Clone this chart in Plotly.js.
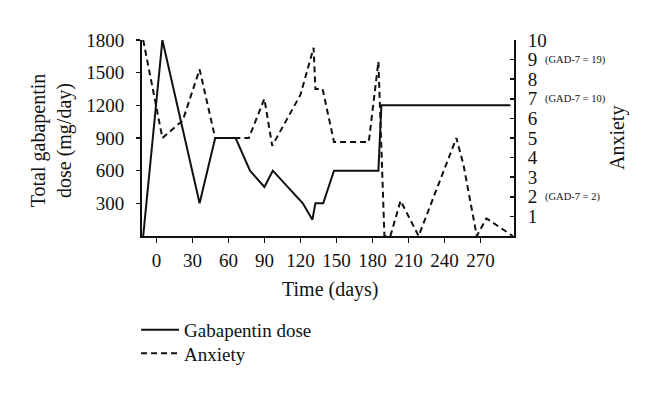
<!DOCTYPE html>
<html>
<head>
<meta charset="utf-8">
<script src="https://cdn.plot.ly/plotly-3.0.1.min.js"></script>
<style>html,body{margin:0;padding:0;background:#fff;}#chart{width:660px;height:396px;}</style>
</head>
<body>
<div id="chart"></div>
<script>
// Gabapentin dose (mg/day) by day
const doseDays = [-11, 5, 36, 49, 66, 78, 90, 97, 122, 130, 132.5, 139, 148, 185, 187.5, 295];
const doseValues = [0, 1800, 300, 900, 900, 600, 450, 600, 300, 150, 300, 300, 600, 600, 1200, 1200];

// Anxiety score by day
const anxDays = [-11, 5, 22, 36, 49, 77, 90, 96.5, 120, 131, 132.5, 138.5, 148, 177, 185, 190, 195, 203.5, 218.5, 250, 256, 267, 275, 297];
const anxValues = [10, 5, 5.9, 8.5, 5, 5, 7, 4.6, 7.2, 9.6, 7.5, 7.5, 4.8, 4.8, 8.9, 0, 0, 1.8, 0, 5, 3.6, 0, 0.9, 0];

const xTicks = [0, 30, 60, 90, 120, 150, 180, 210, 240, 270];
const doseTicks = [300, 600, 900, 1200, 1500, 1800];
const anxTicks = [1, 2, 3, 4, 5, 6, 7, 8, 9, 10];
const gadLabels = ["(GAD-7 = 19)", "(GAD-7 = 10)", "(GAD-7 = 2)"];
const gadLevels = [9, 7, 2];

const FONT = '"Liberation Serif", "Times New Roman", serif';

const traces = [
  {x: doseDays, y: doseValues, name: 'Gabapentin dose', type: 'scatter', mode: 'lines',
   line: {color: '#111', width: 2}, yaxis: 'y', legend: 'legend'},
  {x: anxDays, y: anxValues, name: 'Anxiety', type: 'scatter', mode: 'lines',
   line: {color: '#111', width: 2, dash: '6px,4px'}, yaxis: 'y2', legend: 'legend2'}
];

const annotations = gadLabels.map((t, i) => ({
  text: t, xref: 'paper', yref: 'y2', x: 1.077, y: gadLevels[i], xanchor: 'left', yanchor: 'middle',
  showarrow: false, font: {family: FONT, size: 10.5, color: '#111'}
}));
annotations.push({
  text: 'Anxiety', xref: 'paper', yref: 'paper', x: 1.277, y: 0.5, textangle: -90,
  xanchor: 'center', yanchor: 'middle', showarrow: false, font: {family: FONT, size: 20, color: '#111'}
});
annotations.push({
  text: 'Total gabapentin<br>dose (mg/day)', xref: 'paper', yref: 'paper', x: -0.241, y: 0.49, textangle: -90,
  xanchor: 'center', yanchor: 'middle', showarrow: false, font: {family: FONT, size: 20, color: '#111'}
});
annotations.push({
  text: 'Time (days)', xref: 'paper', yref: 'paper', x: 0.505, y: -0.275,
  xanchor: 'center', yanchor: 'middle', showarrow: false, font: {family: FONT, size: 20, color: '#111'}
});

const legendBase = {xanchor: 'left', yanchor: 'middle', bgcolor: 'rgba(0,0,0,0)', itemwidth: 38,
                    font: {family: FONT, size: 19, color: '#111'}};

const layout = {
  width: 660, height: 396,
  margin: {l: 142, r: 146, t: 40, b: 159.5},
  paper_bgcolor: '#fff', plot_bgcolor: '#fff',
  font: {family: FONT, size: 19, color: '#111'},
  showlegend: true,
  legend: Object.assign({}, legendBase, {x: -0.016, y: -0.479}),
  legend2: Object.assign({}, legendBase, {x: -0.016, y: -0.599}),
  xaxis: {range: [-12, 298], tickvals: xTicks, ticktext: xTicks.map(String), ticks: 'outside', ticklen: 5,
          tickwidth: 1.5, tickcolor: '#111', showline: true, linecolor: '#111', linewidth: 2,
          showgrid: false, zeroline: false, ticklabelstandoff: 1},
  yaxis: {range: [0, 1800], tickvals: doseTicks, ticktext: doseTicks.map(String), ticks: 'outside', ticklen: 4,
          tickwidth: 1.5, tickcolor: '#111', showline: true, linecolor: '#111', linewidth: 2,
          showgrid: false, zeroline: false, ticklabelstandoff: 8},
  yaxis2: {range: [0, 10], overlaying: 'y', side: 'right', tickvals: anxTicks, ticktext: anxTicks.map(String),
           ticks: 'inside', ticklen: 4, tickwidth: 1.5, tickcolor: '#111', showline: true, linecolor: '#111',
           linewidth: 2, showgrid: false, zeroline: false, ticklabelstandoff: 8},
  annotations: annotations
};

Plotly.newPlot('chart', traces, layout, {displayModeBar: false, staticPlot: true});
</script>
</body>
</html>
